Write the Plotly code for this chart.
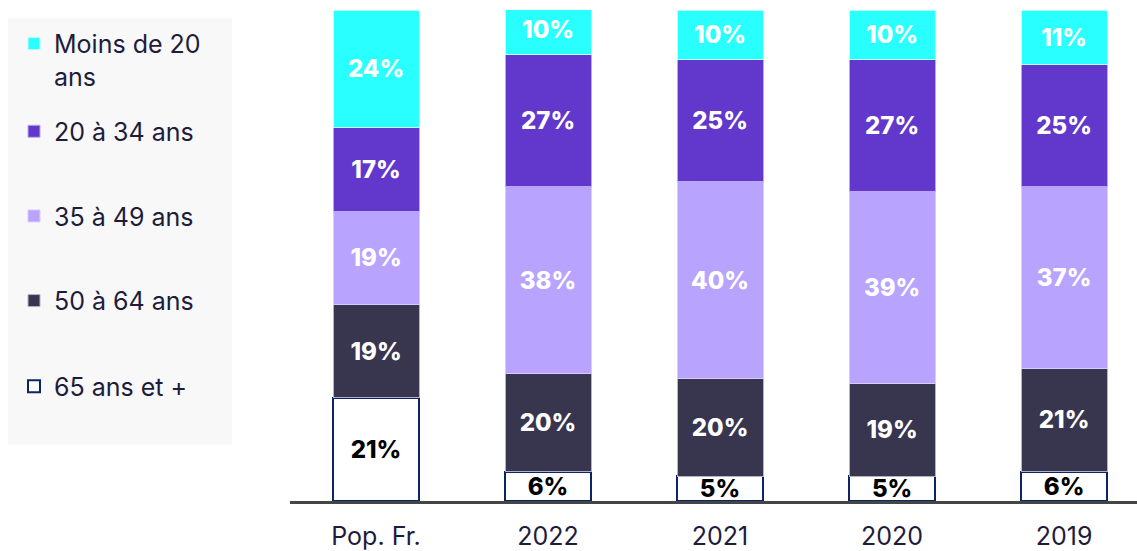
import plotly.graph_objects as go

# Categories and shares (%) per age band
categories = ["Pop. Fr.", "2022", "2021", "2020", "2019"]
age_bands = ["65 ans et +", "50 à 64 ans", "35 à 49 ans", "20 à 34 ans", "Moins de 20<br>ans"]
plus_65 = [21, 6, 5, 5, 6]
age_50_64 = [19, 20, 20, 19, 21]
age_35_49 = [19, 38, 40, 39, 37]
age_20_34 = [17, 27, 25, 27, 25]
under_20 = [24, 10, 10, 10, 11]

series = [plus_65, age_50_64, age_35_49, age_20_34, under_20]
fills = ["#FFFFFF", "#38364F", "#B8A3FF", "#6237CC", "#29FFFF"]
edges = ["#0B2466", "#B4B2C8", "#D8CCFF", "#B9A8EE", "#B8FFFF"]
edge_w = [2, 1, 1, 1, 1]
text_cols = ["#000000", "#FFFFFF", "#FFFFFF", "#FFFFFF", "#FFFFFF"]

FONT = "Inter"
INK = "#1E1C3A"

# Plot area spans y = 10..503 px, x = 290..1137 px
def py(p):
    return (503 - p) / 493

def px(p):
    return (p - 290) / 847

legend_centers = [388, 302, 217, 132, 60]

fig = go.Figure()
for i, (name, vals) in enumerate(zip(age_bands, series)):
    fig.add_trace(go.Bar(
        x=categories,
        y=vals,
        name=name,
        legend="legend" if i == 0 else f"legend{i + 1}",
        marker=dict(color=fills[i], line=dict(color=edges[i], width=edge_w[i])),
        text=[f"{v}%" for v in vals],
        textposition="inside",
        insidetextanchor="middle",
        textangle=0,
        constraintext="none",
        textfont=dict(family=FONT, size=24, color=text_cols[i], weight=800),
        hoverinfo="skip",
    ))

legends = {}
for i, yc in enumerate(legend_centers):
    key = "legend" if i == 0 else f"legend{i + 1}"
    legends[key] = dict(
        x=px(14), xanchor="left",
        y=py(yc), yanchor="middle",
        bgcolor="rgba(0,0,0,0)",
        font=dict(family=FONT, size=25, color=INK),
        valign="top",
        itemclick=False, itemdoubleclick=False,
    )

fig.update_layout(
    width=1137, height=551,
    margin=dict(l=290, r=0, t=10, b=48),
    paper_bgcolor="white",
    plot_bgcolor="white",
    barmode="stack",
    bargap=0.5,
    uniformtext=dict(minsize=24, mode="show"),
    showlegend=True,
    xaxis=dict(
        range=[-0.5, 4.424],
        showgrid=False, zeroline=False,
        showline=True, linecolor="#454545", linewidth=3,
        ticks="", ticklabelstandoff=11,
        tickfont=dict(family=FONT, size=25, color=INK),
        fixedrange=True,
    ),
    yaxis=dict(range=[0, 100], visible=False, fixedrange=True),
    shapes=[dict(
        type="rect", xref="paper", yref="paper",
        x0=px(8), x1=px(232), y0=py(446), y1=py(18),
        fillcolor="#F8F8F8", line=dict(width=0), layer="below",
    )],
    **legends,
)

fig.write_html("out.html")
